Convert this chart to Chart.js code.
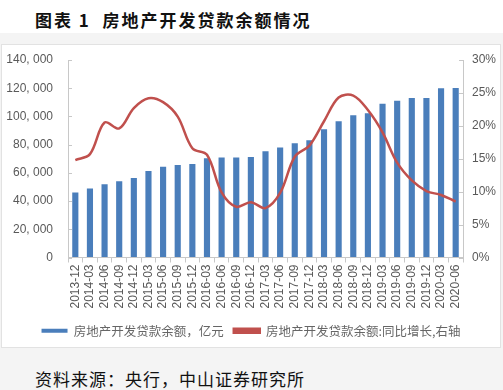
<!DOCTYPE html>
<html>
<head>
<meta charset="utf-8">
<script src="https://cdn.jsdelivr.net/npm/chart.js@4.4.1/dist/chart.umd.min.js"></script>
<style>
  body { margin: 0; width: 503px; height: 390px; background: #f4f4f4; position: relative; overflow: hidden; }
  #top { position: absolute; left: 0; top: 0; width: 503px; height: 33px; background: #fff; }
  #title { position: absolute; left: 35px; top: 7px; font: bold 17px "Noto Sans CJK SC"; letter-spacing: 2px; color: #111; }
  #box { position: absolute; left: 1px; top: 44px; width: 498px; height: 302px; background: #fff; border: 1px solid #e2e2e2; }
  #source { position: absolute; left: 35px; top: 366px; font: 17px "Noto Sans CJK SC"; letter-spacing: 1px; color: #111; }
</style>
</head>
<body>
<div id="top"><div id="title">图表 1&nbsp; 房地产开发贷款余额情况</div></div>
<div id="box"><canvas id="loan-chart"></canvas></div>
<div id="source">资料来源：央行，中山证券研究所</div>
<script>
var quarters = ["2013-12", "2014-03", "2014-06", "2014-09", "2014-12", "2015-03", "2015-06", "2015-09", "2015-12",
  "2016-03", "2016-06", "2016-09", "2016-12", "2017-03", "2017-06", "2017-09", "2017-12",
  "2018-03", "2018-06", "2018-09", "2018-12", "2019-03", "2019-06", "2019-09", "2019-12", "2020-03", "2020-06"];
// 亿元
var loanBalance = [46000, 49000, 52000, 54000, 56300, 61300, 64400, 65500, 66300, 70300, 70800, 70800, 71200,
  75300, 77900, 81000, 83200, 91000, 96500, 100800, 102300, 108900, 111100, 113000, 113000, 119900, 120100];
// 同比, %
var yoyGrowth = [14.8, 15.7, 20.5, 19.6, 22.7, 24.2, 23.6, 21.4, 16.6, 15.6, 9.9, 7.7, 8.4,
  7.5, 9.8, 15.3, 17.0, 20.7, 24.3, 24.6, 22.4, 19.0, 14.4, 11.7, 10.1, 9.5, 8.5];
var leftTicks = [0, 20000, 40000, 60000, 80000, 100000, 120000, 140000];
var rightTicks = [0, 5, 10, 15, 20, 25, 30];

var tickFont = { family: "Liberation Sans", size: 12 };
var tickColor = '#595959';
var axisColor = '#c8c8c8';

// small inward tick marks on both value axes
var innerTicks = {
  id: 'innerTicks',
  afterDatasetsDraw: function(chart) {
    var c = chart.ctx;
    c.save();
    c.strokeStyle = axisColor;
    c.lineWidth = 1;
    ['y', 'y1'].forEach(function(id) {
      var s = chart.scales[id];
      s.ticks.forEach(function(t) {
        var py = Math.round(s.getPixelForValue(t.value)) + 0.5;
        var px = id == 'y' ? s.right : s.left;
        var dir = id == 'y' ? 1 : -1;
        c.beginPath();
        c.moveTo(px, py);
        c.lineTo(px + dir * 4, py);
        c.stroke();
      });
    });
    c.restore();
  }
};

function fixWidth(w) {
  return function(s) {
    s.width = w;
    s.paddingTop = 0;
    s.paddingBottom = 0;
  };
}

var ctx = document.getElementById("loan-chart").getContext('2d');
var myChart = new Chart(ctx, {
  type: 'bar',
  data: {
    labels: quarters,
    datasets: [{
      label: '房地产开发贷款余额，亿元',
      data: loanBalance,
      backgroundColor: '#4a7ebb',
      borderWidth: 0,
      categoryPercentage: 1,
      barPercentage: 0.42,
      yAxisID: 'y',
      order: 2
    }, {
      type: 'line',
      label: '房地产开发贷款余额:同比增长,右轴',
      data: yoyGrowth,
      borderColor: '#c0504d',
      backgroundColor: '#c0504d',
      borderWidth: 2.5,
      pointRadius: 0,
      tension: 0.35,
      yAxisID: 'y1',
      order: 1
    }]
  },
  options: {
    responsive: true,
    maintainAspectRatio: false,
    animation: false,
    layout: { padding: { top: 15, left: 0, right: 0, bottom: 0 } },
    plugins: {
      tooltip: { enabled: false },
      legend: {
        display: true,
        position: 'bottom',
        labels: {
          boxWidth: 26,
          boxHeight: 4,
          padding: 10,
          color: '#666',
          font: { family: "Noto Sans CJK SC", size: 12.5 },
          sort: function(a, b) { return a.datasetIndex - b.datasetIndex; }
        }
      }
    },
    scales: {
      x: {
        offset: true,
        grid: { offset: true, drawOnChartArea: false, drawTicks: true, tickLength: 5, color: axisColor },
        border: { color: axisColor },
        ticks: { color: tickColor, font: tickFont, minRotation: 90, maxRotation: 90, autoSkip: false, padding: 2 },
        afterFit: function(s) { s.height = 57; }
      },
      y: {
        position: 'left',
        min: 0,
        max: 140000,
        afterBuildTicks: function(s) { s.ticks = leftTicks.map(function(v) { return { value: v }; }); },
        grid: { drawOnChartArea: false, drawTicks: false },
        border: { color: axisColor },
        ticks: {
          color: tickColor, font: tickFont, padding: 15,
          callback: function(v) { return v >= 1000 ? Math.floor(v / 1000) + ', ' + String(v % 1000).padStart(3, '0') : String(v); }
        },
        afterFit: fixWidth(66)
      },
      y1: {
        position: 'right',
        min: 0,
        max: 30,
        afterBuildTicks: function(s) { s.ticks = rightTicks.map(function(v) { return { value: v }; }); },
        grid: { drawOnChartArea: false, drawTicks: false },
        border: { color: axisColor },
        ticks: { color: tickColor, font: tickFont, padding: 9, callback: function(v) { return v + '%'; } },
        afterFit: fixWidth(37)
      }
    }
  },
  plugins: [innerTicks]
});
</script>
</body>
</html>
